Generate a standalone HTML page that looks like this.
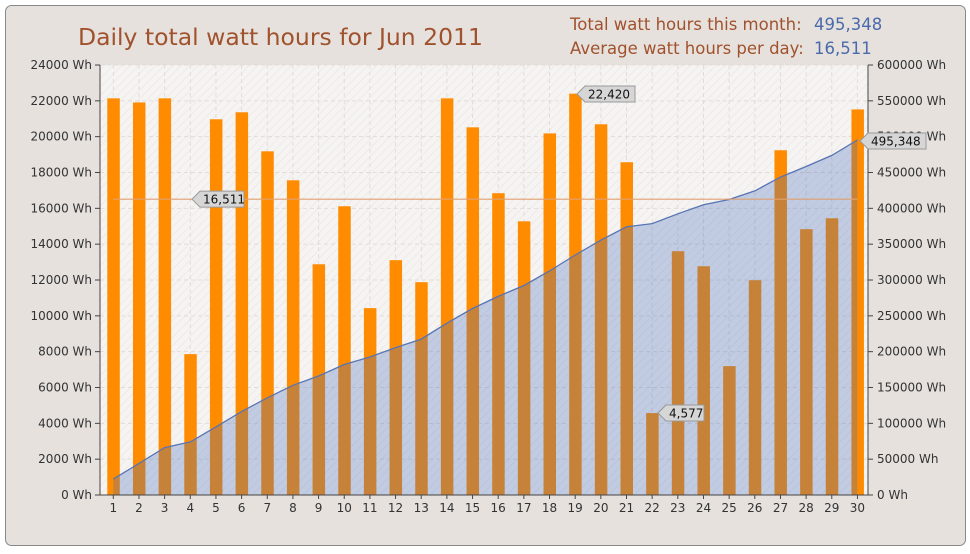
<!DOCTYPE html>
<html><head><meta charset="utf-8"><style>
body{margin:0;background:#fff;font-family:"DejaVu Sans","Liberation Sans",sans-serif}
</style></head><body>
<svg id="s" width="970" height="550" xmlns="http://www.w3.org/2000/svg" font-family="DejaVu Sans, Liberation Sans, sans-serif">
<defs>
<pattern id="hatch" width="6" height="6" patternUnits="userSpaceOnUse" patternTransform="rotate(45)">
<rect width="6" height="6" fill="#f6f4f2"/><line x1="0" y1="0" x2="0" y2="6" stroke="#ebe7e3" stroke-width="1.5"/></pattern>
</defs>
<rect x="5.5" y="5.5" width="960" height="540" rx="6" fill="#e6e1dd" stroke="#888" stroke-width="1"/>
<rect x="100" y="65" width="768" height="430" fill="url(#hatch)"/>
<text x="78" y="45" font-size="23.5" fill="#a0522d">Daily total watt hours for Jun 2011</text>
<text x="570" y="30" font-size="16.5" fill="#a0522d">Total watt hours this month:</text>
<text x="814" y="30" font-size="16.5" fill="#4a6aab">495,348</text>
<text x="570" y="54" font-size="16.5" fill="#a0522d">Average watt hours per day:</text>
<text x="814" y="54" font-size="16.5" fill="#4a6aab">16,511</text>
<g id="g"></g>
</svg>
<script>
var v=[22160,21930,22160,7870,20990,21380,19200,17580,12890,16130,10440,13120,11890,22160,20540,16860,15290,20200,22420,20710,18590,4577,13620,12780,7200,12000,19260,14850,15460,21540];
var s=0;for(var i=0;i<30;i++)s+=v[i];var k=495348/s;for(i=0;i<30;i++)v[i]*=k;
var T=65,B=495,H=430,h='';
function X(i){return 113.3+i*25.66;}
for(var t=0;t<=12;t++){var y=B-t*H/12;
 h+='<line x1="100" x2="868" y1="'+y+'" y2="'+y+'" stroke="#e2dcd7" stroke-dasharray="4,3"/>';
 h+='<line x1="95" x2="100" y1="'+y+'" y2="'+y+'" stroke="#444"/><text x="92" y="'+(y+4)+'" font-size="12" fill="#333" text-anchor="end">'+(t*2000)+' Wh</text>';
 h+='<line x1="868" x2="873" y1="'+y+'" y2="'+y+'" stroke="#444"/><text x="877" y="'+(y+4)+'" font-size="12" fill="#333">'+(t*50000)+' Wh</text>';}
for(i=0;i<30;i++){var x=X(i);
 h+='<line x1="'+x+'" x2="'+x+'" y1="65" y2="495" stroke="#e2dcd7" stroke-dasharray="4,3"/>';
 h+='<line x1="'+x+'" x2="'+x+'" y1="495" y2="499" stroke="#444"/><text x="'+x+'" y="512" font-size="12" fill="#333" text-anchor="middle">'+(i+1)+'</text>';}
for(i=0;i<30;i++){var y=B-v[i]/24000*H;h+='<rect x="'+(X(i)-6)+'" y="'+y+'" width="12.5" height="'+(B-y)+'" fill="#ff8c00"/>';}
var c=0,pts=[];for(i=0;i<30;i++){c+=v[i];pts.push(X(i).toFixed(1)+','+(B-c/600000*H).toFixed(1));}
h+='<polygon points="'+X(0)+','+B+' '+pts.join(' ')+' '+X(29)+','+B+'" fill="rgba(70,110,190,0.3)"/>';
h+='<polyline points="'+pts.join(' ')+'" fill="none" stroke="#5874b4" stroke-width="1.3"/>';
var ay=B-16511/24000*H;h+='<line x1="'+X(0)+'" x2="'+X(29)+'" y1="'+ay+'" y2="'+ay+'" stroke="#e0a070" stroke-width="1.2"/>';
h+='<line x1="100" x2="100" y1="65" y2="495" stroke="#444"/><line x1="868" x2="868" y1="65" y2="495" stroke="#444"/><line x1="100" x2="868" y1="495" y2="495" stroke="#444"/>';
function lab(x,y,t,w){h+='<path d="M'+x+','+y+' l8,-8 h'+w+' v16 h-'+w+' z" fill="#d6d6d6" stroke="#999"/><text x="'+(x+11)+'" y="'+(y+4.5)+'" font-size="12" fill="#111">'+t+'</text>';}
lab(192,ay,'16,511',44);lab(577,94,'22,420',50);lab(658,413,'4,577',38);lab(860,141,'495,348',58);
document.getElementById('g').innerHTML=h;
</script>
</body></html>
